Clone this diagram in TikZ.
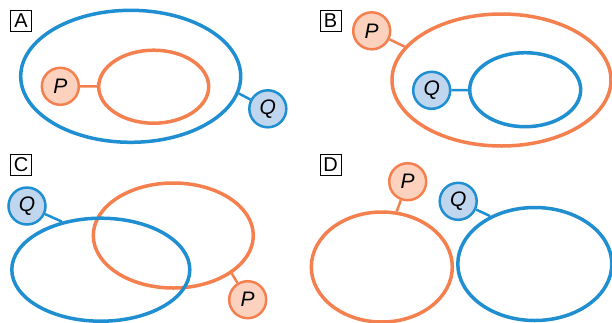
\documentclass[tikz,border=0pt]{standalone}
\usepackage{fontspec}
\setmainfont{Liberation Sans}
\usetikzlibrary{shapes.geometric}
\definecolor{cblue}{HTML}{1F8FD1}
\definecolor{corange}{HTML}{F5804F}
\definecolor{pfill}{HTML}{FCD2BE}
\definecolor{qfill}{HTML}{BFD6EE}
\tikzset{
  panellabel/.style={draw=black, line width=0.9pt, minimum width=21pt, minimum height=21pt, inner sep=0pt, font=\fontsize{20}{20}\selectfont},
  pnode/.style={circle, draw=corange, fill=pfill, line width=2.5pt, minimum size=37pt, inner sep=0pt, font=\fontsize{21}{21}\selectfont\itshape},
  qnode/.style={circle, draw=cblue, fill=qfill, line width=2.5pt, minimum size=37pt, inner sep=0pt, font=\fontsize{21}{21}\selectfont\itshape},
  oell/.style={ellipse, draw=corange, line width=3.5pt, inner sep=0pt},
  bell/.style={ellipse, draw=cblue, line width=3.5pt, inner sep=0pt},
  olink/.style={draw=corange, line width=2.5pt},
  blink/.style={draw=cblue, line width=2.5pt},
}
\begin{document}
\begin{tikzpicture}[x=1pt,y=-1pt]
\useasboundingbox (0,0) rectangle (612,322);
% Panel A
\node[panellabel] (labA) at (21,21) {A};
\node[bell, minimum width=220pt, minimum height=132pt] (bigA) at (130.7,76.3) {};
\node[oell, minimum width=110pt, minimum height=73pt] (inA) at (153.7,86.7) {};
\node[pnode] (PA) at (60.3,86.3) {P};
\node[qnode] (QA) at (267.8,108.8) {Q};
\draw[olink] (PA) -- (inA);
\draw[blink] (QA) -- (bigA.-9.5);
% Panel B
\node[panellabel] (labB) at (330.5,21) {B};
\node[oell, minimum width=219pt, minimum height=132pt] (bigB) at (501.5,80) {};
\node[bell, minimum width=111pt, minimum height=74pt] (inB) at (525.2,89.7) {};
\node[pnode] (PB) at (371.7,30.8) {P};
\node[qnode] (QB) at (431.7,90.3) {Q};
\draw[olink] (PB) -- (bigB.161.3);
\draw[blink] (QB) -- (inB);
% Panel C
\node[panellabel] (labC) at (21,164.5) {C};
\node[oell, minimum width=160pt, minimum height=105pt] (oC) at (173.3,235.5) {};
\node[bell, minimum width=178pt, minimum height=103pt] (bC) at (100.8,269.7) {};
\node[qnode] (QC) at (27,206) {Q};
\node[pnode] (PC) at (247.7,299.7) {P};
\draw[blink] (QC) -- (bC.129.8);
\draw[olink] (PC) -- (oC.-33.7);
% Panel D
\node[panellabel] (labD) at (330.5,165) {D};
\node[oell, minimum width=141pt, minimum height=110pt] (oD) at (381.8,267) {};
\node[bell, minimum width=154pt, minimum height=113pt] (bD) at (534.8,264) {};
\node[pnode] (PD) at (407.7,181.7) {P};
\node[qnode] (QD) at (458.2,201.3) {Q};
\draw[olink] (PD) -- (oD.75);
\draw[blink] (QD) -- (bD.133.8);
\end{tikzpicture}
\end{document}
